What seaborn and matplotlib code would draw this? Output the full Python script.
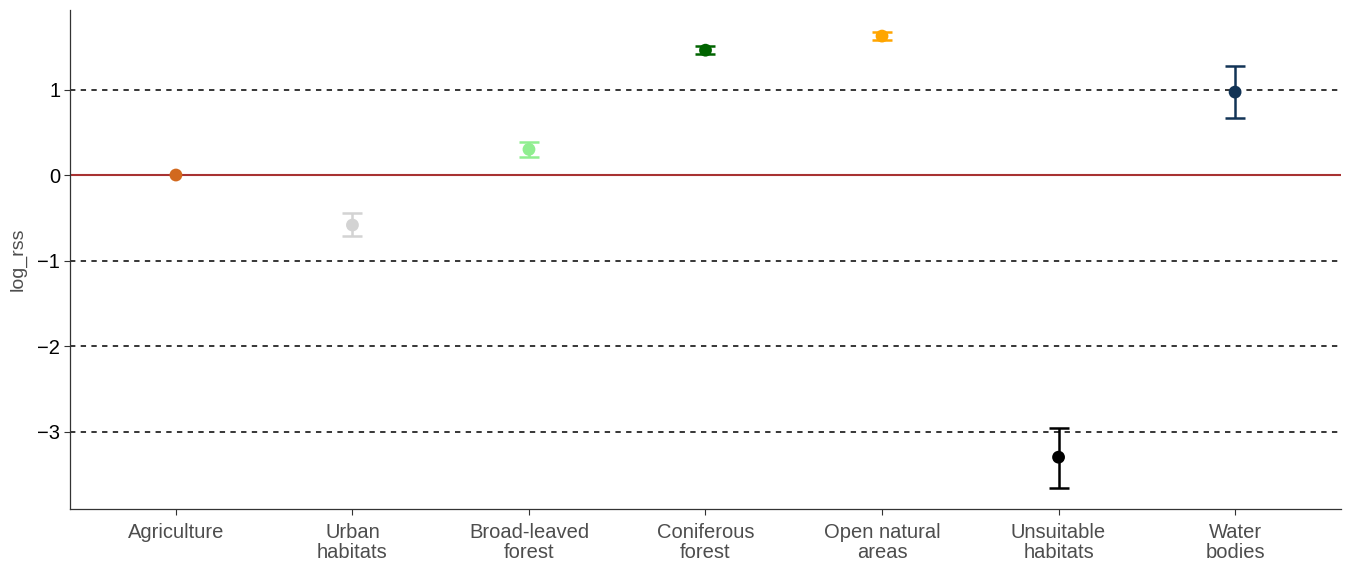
import matplotlib
matplotlib.use("Agg")
import matplotlib.pyplot as plt
import seaborn as sns
import pandas as pd

# Habitat categories and their log relative selection strength estimates
categories = ["Agriculture", "Urban\nhabitats", "Broad-leaved\nforest", "Coniferous\nforest",
              "Open natural\nareas", "Unsuitable\nhabitats", "Water\nbodies"]
log_rss = [0.0, -0.585, 0.30, 1.46, 1.625, -3.30, 0.97]
ci_lower = [None, -0.71, 0.21, 1.415, 1.58, -3.66, 0.67]
ci_upper = [None, -0.445, 0.385, 1.51, 1.67, -2.96, 1.28]
colors = ["#D2691E", "#D3D3D3", "#90EE90", "#006400", "#FFA500", "#000000", "#123456"]
ref_lines = [1, -1, -2, -3]

sns.set_theme(style="white")
plt.rcParams["font.family"] = ["Liberation Sans", "DejaVu Sans"]

df = pd.DataFrame({"habitat": categories, "log_rss": log_rss})

fig = plt.figure(figsize=(13.48, 5.62), dpi=100)
ax = fig.add_axes([70 / 1348, 1 - 509 / 562, (1341 - 70) / 1348, (509 - 10) / 562])

for y in ref_lines:
    ax.axhline(y, color="black", linestyle=(0, (3.5, 3.5)), linewidth=1.1, zorder=1)
ax.axhline(0, color="#A83232", linewidth=1.5, zorder=1)

for i, (lo, hi, c) in enumerate(zip(ci_lower, ci_upper, colors)):
    if lo is None:
        continue
    est = log_rss[i]
    ax.errorbar([i], [est], yerr=[[est - lo], [hi - est]], fmt="none",
                ecolor=c, elinewidth=1.8, capsize=7, capthick=1.8, zorder=2)

sns.scatterplot(data=df, x="habitat", y="log_rss", hue="habitat", palette=colors,
                s=85, edgecolor="none", legend=False, ax=ax, zorder=3)

ax.set_xlim(-0.6, 6.6)
ax.set_ylim(-3.906, 1.93)
ax.set_yticks([-3, -2, -1, 0, 1])
ax.set_yticklabels(["\u22123", "\u22122", "\u22121", "0", "1"])
ax.set_xlabel("")
ax.set_ylabel("log_rss", fontsize=14, color="#4D4D4D", labelpad=8)

ax.tick_params(axis="x", labelsize=14.5, labelcolor="#4D4D4D", length=4, width=0.8,
               color="#333333", bottom=True, pad=6)
ax.tick_params(axis="y", labelsize=14.5, labelcolor="black", length=4, width=0.8,
               color="#333333", left=True, pad=3)
for lbl in ax.get_xticklabels():
    lbl.set_linespacing(1.05)

sns.despine(ax=ax)
for side in ["left", "bottom"]:
    ax.spines[side].set_color("#333333")
    ax.spines[side].set_linewidth(0.9)

fig.savefig("out.png", dpi=100)
